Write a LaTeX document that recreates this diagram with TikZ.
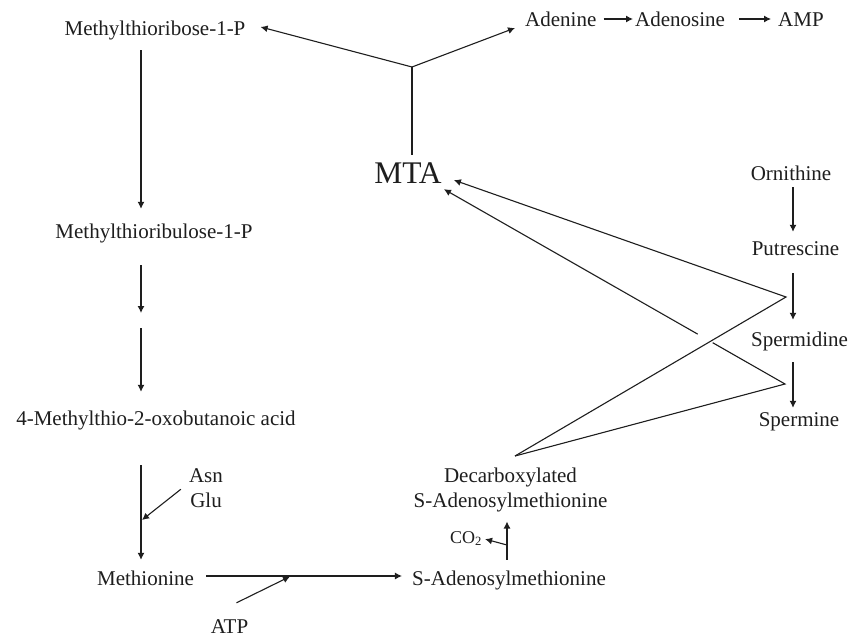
\documentclass[tikz,border=0pt]{standalone}
\usepackage{fontspec}
\setmainfont{Liberation Serif}
\usetikzlibrary{arrows.meta,calc}
\definecolor{ink}{RGB}{30,30,30}
\tikzset{
  lbl/.style={font=\fontsize{21}{25}\selectfont, inner sep=0pt, text height=14pt, text depth=5pt, text=ink},
  ml/.style={font=\fontsize{21}{25}\selectfont, inner sep=0pt, align=center, text=ink},
  ln/.style={draw=ink, line width=1.1pt},
  arr/.style={ln, -{Latex[length=7pt,width=7pt]}},
}
\begin{document}
\begin{tikzpicture}[x=1pt,y=-1pt]
\useasboundingbox[fill=white] (0,0) rectangle (851,637);
% nodes
\node[lbl] (ribose) at (155,30.5) {Methylthioribose-1-P};
\node[lbl] (ribulose) at (154,233.5) {Methylthioribulose-1-P};
\node[lbl] (acid) at (156,420.5) {4-Methylthio-2-oxobutanoic acid};
\node[lbl] (met) at (145.5,580.5) {Methionine};
\node[ml, anchor=north] (asnglu) at (206,468) {Asn\\Glu};
\node[lbl] (atp) at (229.5,629) {ATP};
\node[lbl] (sam) at (509,580.5) {S-Adenosylmethionine};
\node[ml, anchor=north] (dc) at (510.5,468) {Decarboxylated\\S-Adenosylmethionine};
\node[inner sep=0pt, anchor=base west, font=\fontsize{18}{20}\selectfont, text=ink] (co2) at (450,543) {CO\textsubscript{2}};
\node[inner sep=0pt, anchor=base, font=\fontsize{31.5}{36}\selectfont, text=ink] (mta) at (408,183) {MTA};
\node[lbl, anchor=west] (adenine) at (525,22.5) {Adenine};
\node[lbl, anchor=west] (adenosine) at (635,22.5) {Adenosine};
\node[lbl, anchor=west] (amp) at (778,22.5) {AMP};
\node[lbl] (orn) at (791,175.5) {Ornithine};
\node[lbl] (put) at (795.5,250.5) {Putrescine};
\node[lbl] (spd) at (799.5,341.5) {Spermidine};
\node[lbl] (spm) at (799,421.5) {Spermine};
% helper coordinates
\coordinate (colL) at (141,0);
\coordinate (colR) at (793,0);
\coordinate (vx) at (507,0);
\coordinate (mid) at (141,320);
\coordinate (ag) at (142,520);
\coordinate (atpj) at (290,576.5);
\coordinate (cj) at (507,545);
\coordinate (j) at (412,67);
\coordinate (p1) at (786,297);
\coordinate (p2) at (785,384);
\coordinate (apex) at (515,456);
\coordinate (t1) at ([xshift=12pt,yshift=-7.5pt]mta.east);
\coordinate (t2) at ([xshift=2pt,yshift=-6pt]mta.south east);
% left column
\draw[arr, shorten <=10pt, shorten >=15pt] (ribose.south -| colL) -- (ribulose.north -| colL);
\draw[arr, shorten <=22pt, shorten >=7pt] (ribulose.south -| colL) -- (mid);
\draw[arr, shorten <=8pt, shorten >=19pt] (mid) -- (acid.north -| colL);
\draw[arr, shorten <=35pt, shorten >=11pt] (acid.south -| colL) -- (met.north -| colL);
\draw[arr] ([xshift=-8pt,yshift=-1.5pt]asnglu.west) -- (ag);
% bottom
\draw[arr, shorten <=12pt, shorten >=10pt] ([yshift=4.5pt]met.east) -- ([yshift=4.5pt]sam.west);
\draw[arr] ([xshift=7pt,yshift=16.5pt]atp.north) -- (atpj);
\draw[arr, shorten <=11pt, shorten >=9pt] (sam.north -| vx) -- (dc.south -| vx);
\draw[arr, shorten >=3pt] (cj) -- (co2.east);
% top
\draw[ln, shorten >=7pt] (j) -- (mta.north -| j);
\draw[arr, shorten >=15.5pt] (j) -- ([yshift=7.5pt]ribose.east);
\draw[arr, shorten >=10.7pt] (j) -- ([yshift=-1.7pt]adenine.west);
\draw[arr, shorten <=7pt, shorten >=2pt] ([yshift=3.5pt]adenine.east) -- ([yshift=3.5pt]adenosine.west);
\draw[arr, shorten <=14pt, shorten >=7pt] ([yshift=3.5pt]adenosine.east) -- ([yshift=3.5pt]amp.west);
% right column
\draw[arr, shorten <=2pt, shorten >=9pt] (orn.south -| colR) -- (put.north -| colR);
\draw[arr, shorten <=13pt, shorten >=12pt] (put.south -| colR) -- (spd.north -| colR);
\draw[arr, shorten <=11pt, shorten >=4pt] (spd.south -| colR) -- (spm.north -| colR);
% polyamine synthesis lines to MTA
\draw[ln] (apex) -- (p2) -- ($(p2)!0.212!(t2)$);
\draw[arr] ($(p2)!0.256!(t2)$) -- (t2);
\draw[arr, line join=miter] (apex) -- (p1) -- (t1);
\end{tikzpicture}
\end{document}
